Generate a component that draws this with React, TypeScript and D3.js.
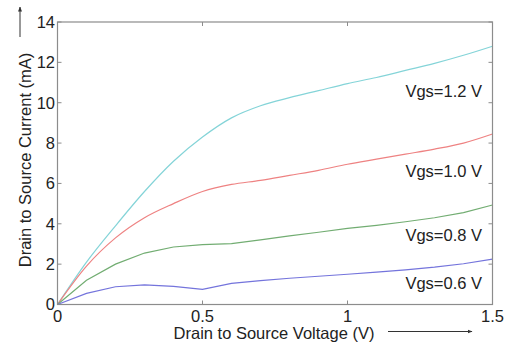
import React from "react";
import * as d3 from "d3";

const vds = [0, 0.1, 0.2, 0.3, 0.4, 0.5, 0.6, 0.7, 0.8, 0.9, 1.0, 1.1, 1.2, 1.3, 1.4, 1.5];
const id12 = [0, 2.1, 3.9, 5.6, 7.1, 8.3, 9.25, 9.85, 10.25, 10.6, 10.95, 11.25, 11.6, 11.95, 12.35, 12.8];
const id10 = [0, 1.9, 3.3, 4.3, 5.0, 5.6, 5.95, 6.15, 6.4, 6.65, 6.95, 7.2, 7.45, 7.7, 8.0, 8.45];
const id08 = [0, 1.2, 2.0, 2.55, 2.85, 2.97, 3.02, 3.2, 3.4, 3.58, 3.77, 3.92, 4.1, 4.3, 4.55, 4.93];
const id06 = [0, 0.55, 0.88, 0.97, 0.9, 0.75, 1.05, 1.18, 1.3, 1.4, 1.5, 1.6, 1.72, 1.85, 2.02, 2.25];

const seriesNames = ["Vgs=1.2 V", "Vgs=1.0 V", "Vgs=0.8 V", "Vgs=0.6 V"];
const seriesValues = [id12, id10, id08, id06];
const seriesColors = ["#84d4d8", "#ee8282", "#72ad72", "#7474dc"];
const labelValues = [10.28, 6.32, 3.16, 0.77];

const xTicks = [0, 0.5, 1, 1.5];
const xTickLabels = ["0", "0.5", "1", "1.5"];
const yTicks = [0, 2, 4, 6, 8, 10, 12, 14];

const W = 508;
const H = 345;
const M = { left: 57.5, right: 492.5, top: 22, bottom: 304.5 };
const FONT = "'Liberation Sans', Arial, Helvetica, sans-serif";
const AXIS = "#8c8c8c";
const TEXT = "#222";

export default function App() {
  const x = d3.scaleLinear().domain([0, 1.5]).range([M.left, M.right]);
  const y = d3.scaleLinear().domain([0, 14]).range([M.bottom, M.top]);
  const curves = [d3.curveMonotoneX, d3.curveMonotoneX, d3.curveLinear, d3.curveLinear];
  const makeLine = (k: number) =>
    d3
      .line<number>()
      .x((_, i) => x(vds[i]))
      .y((d) => y(d))
      .curve(curves[k]);

  return (
    <svg
      width={W}
      height={H}
      style={{ position: "absolute", left: 0, top: 0, background: "#fff" }}
      fontFamily={FONT}
    >
      <defs>
        <marker id="ah" viewBox="0 0 10 10" refX="9" refY="5" markerWidth="5" markerHeight="5" orient="auto">
          <path d="M0,1 L10,5 L0,9 z" fill="#333" />
        </marker>
      </defs>
      <rect x={0} y={0} width={W} height={H} fill="#fff" />
      {seriesValues.map((vals, k) => (
        <path key={k} d={makeLine(k)(vals) || ""} fill="none" stroke={seriesColors[k]} strokeWidth={1.2} />
      ))}
      <rect
        x={M.left}
        y={M.top}
        width={M.right - M.left}
        height={M.bottom - M.top}
        fill="none"
        stroke={AXIS}
        strokeWidth={1.2}
      />
      {xTicks.map((t, i) => (
        <g key={"xt" + i}>
          <line x1={x(t)} x2={x(t)} y1={M.bottom} y2={M.bottom - 4} stroke={AXIS} />
          <line x1={x(t)} x2={x(t)} y1={M.top} y2={M.top + 4} stroke={AXIS} />
          <text x={x(t)} y={321.5} textAnchor="middle" fontSize={16.5} fill={TEXT}>
            {xTickLabels[i]}
          </text>
        </g>
      ))}
      {yTicks.map((t, i) => (
        <g key={"yt" + i}>
          <line x1={M.left} x2={M.left + 4} y1={y(t)} y2={y(t)} stroke={AXIS} />
          <line x1={M.right} x2={M.right - 4} y1={y(t)} y2={y(t)} stroke={AXIS} />
          <text x={55} y={y(t)} dy="0.36em" textAnchor="end" fontSize={16.5} fill={TEXT}>
            {String(t)}
          </text>
        </g>
      ))}
      {seriesNames.map((n, k) => (
        <text key={"l" + k} x={482} y={y(labelValues[k])} textAnchor="end" fontSize={16.5} fill={TEXT}>
          {n}
        </text>
      ))}
      <text x={274} y={338.5} textAnchor="middle" fontSize={16.5} fill={TEXT}>
        Drain to Source Voltage (V)
      </text>
      <text transform={`translate(31,160) rotate(-90)`} textAnchor="middle" fontSize={16.5} fill={TEXT}>
        Drain to Source Current (mA)
      </text>
      <line x1={388} x2={472} y1={331.5} y2={331.5} stroke="#333" strokeWidth={1} markerEnd="url(#ah)" />
      <line x1={20} x2={20} y1={37} y2={7} stroke="#333" strokeWidth={1} markerEnd="url(#ah)" />
    </svg>
  );
}
